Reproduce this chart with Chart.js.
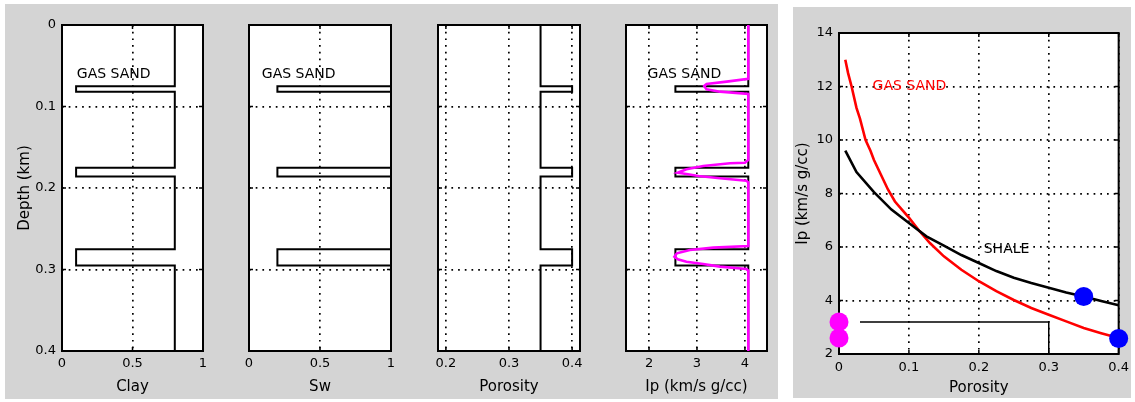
<!DOCTYPE html>
<html>
<head>
<meta charset="utf-8">
<script src="https://cdn.jsdelivr.net/npm/chart.js@4.4.1/dist/chart.umd.min.js"></script>
<style>
  html, body { margin: 0; padding: 0; background: #fff; }
  body { width: 1135px; height: 402px; position: relative; overflow: hidden; }
  .bg { position: absolute; background: #d4d4d4; }
  canvas { position: absolute; top: 0; }
</style>
</head>
<body>
<div class="bg" style="left:5px;top:4px;width:773px;height:395px"></div>
<div class="bg" style="left:793px;top:7px;width:338px;height:391px"></div>
<canvas id="clay" width="225" height="402" style="left:0px"></canvas>
<canvas id="sw" width="200" height="402" style="left:215px"></canvas>
<canvas id="por" width="200" height="402" style="left:405px"></canvas>
<canvas id="ip" width="190" height="402" style="left:595px"></canvas>
<canvas id="xplot" width="342" height="402" style="left:793px"></canvas>
<script>
// ---- Earth model: three gas-sand beds embedded in shale (depth in km) ----
const bedTop  = [0.075, 0.175, 0.275];
const bedBase = [0.082, 0.186, 0.295];

// Log values per lithology: [shale, gas sand]
const clayLog = [0.8, 0.1];
const swLog   = [1.0, 0.2];
const porLog  = [0.35, 0.40];
const ipLog   = [4.07, 2.55];

// Band-limited impedance trace (depth km, Ip)
const ipSynDepth = [0, 0.066, 0.0695, 0.0724, 0.0748, 0.0789, 0.0818, 0.0847,
  0.1656, 0.169, 0.1697, 0.173, 0.1771, 0.18, 0.1812, 0.1828, 0.1853, 0.1881, 0.191, 0.193,
  0.2712, 0.2732, 0.276, 0.2802, 0.2843, 0.2875, 0.2904, 0.2933, 0.2965, 0.2994, 0.3014, 0.4];
const ipSynValue = [4.07, 4.07, 3.62, 3.2, 3.15, 3.2, 3.48, 4.07,
  4.07, 4.0, 3.69, 3.13, 2.78, 2.65, 2.6, 2.78, 3.03, 3.48, 4.03, 4.07,
  4.07, 3.34, 2.85, 2.58, 2.53, 2.6, 2.78, 3.13, 3.48, 4.03, 4.07, 4.07];

// Rock-physics trends: impedance vs porosity
const sandPhi = [0.009, 0.013, 0.018, 0.025, 0.03, 0.038, 0.045, 0.05, 0.06, 0.07, 0.08, 0.09, 0.1,
  0.115, 0.13, 0.15, 0.175, 0.2, 0.225, 0.25, 0.275, 0.3, 0.325, 0.35, 0.375, 0.4];
const sandIp  = [13.0, 12.5, 12.0, 11.2, 10.8, 10.0, 9.6, 9.25, 8.7, 8.15, 7.7, 7.4, 7.1,
  6.6, 6.15, 5.65, 5.15, 4.72, 4.35, 4.02, 3.72, 3.47, 3.22, 2.97, 2.78, 2.6];
const shalePhi = [0.009, 0.025, 0.05, 0.075, 0.1, 0.125, 0.15, 0.175, 0.2, 0.225, 0.25,
  0.275, 0.3, 0.325, 0.35, 0.375, 0.4];
const shaleIp  = [9.6, 8.8, 8.05, 7.4, 6.9, 6.4, 6.05, 5.7, 5.4, 5.1, 4.85,
  4.65, 4.48, 4.3, 4.15, 3.98, 3.82];
const pathPhi = [0.03, 0.3, 0.3];
const pathIp  = [3.2, 3.2, 2.0];
const endPhi = [0.35, 0.4];
const endIp  = [4.15, 2.58];
const zeroPhi = [0, 0];
const zeroIp  = [3.2, 2.6];

// Tick values
const depthTicks = [0, 0.1, 0.2, 0.3, 0.4];
const fracTicks  = [0, 0.5, 1];
const porTicks   = [0.2, 0.3, 0.4];
const ipTicks    = [2, 3, 4];
const xpPhiTicks = [0, 0.1, 0.2, 0.3, 0.4];
const xpIpTicks  = [2, 4, 6, 8, 10, 12, 14];

Chart.defaults.font.family = "'DejaVu Sans', sans-serif";
Chart.defaults.color = '#000';

const CANVAS_H = 402;
const FONT_TICK = 13, FONT_TITLE = 15, FONT_NOTE = 14;

// blocky log from the bed model
function blockLog(vals) {
  const [shale, sand] = vals;
  const pts = [{ x: shale, y: depthTicks[0] }];
  bedTop.forEach((t, i) => {
    pts.push({ x: shale, y: t }, { x: sand, y: t }, { x: sand, y: bedBase[i] }, { x: shale, y: bedBase[i] });
  });
  pts.push({ x: shale, y: depthTicks[depthTicks.length - 1] });
  return pts;
}
const zipXY = (xs, ys) => xs.map((v, i) => ({ x: v, y: ys[i] }));
const fmt = v => String(Math.round(v * 1000) / 1000);

// white plot box, frame and inward tick marks
const framePlugin = {
  id: 'frame',
  beforeDraw(chart) {
    const { ctx, chartArea: a } = chart;
    ctx.save();
    ctx.fillStyle = '#fff';
    ctx.fillRect(a.left, a.top, a.width, a.height);
    ctx.restore();
  },
  beforeDatasetsDraw(chart) {
    const { ctx, chartArea: a, scales } = chart;
    ctx.save();
    ctx.strokeStyle = '#000';
    ctx.lineWidth = 1.5;
    ctx.beginPath();
    scales.x.ticks.forEach(t => {
      const p = scales.x.getPixelForValue(t.value);
      ctx.moveTo(p, a.top); ctx.lineTo(p, a.top + 4);
      ctx.moveTo(p, a.bottom); ctx.lineTo(p, a.bottom - 4);
    });
    scales.y.ticks.forEach(t => {
      const p = scales.y.getPixelForValue(t.value);
      ctx.moveTo(a.left, p); ctx.lineTo(a.left + 4, p);
      ctx.moveTo(a.right, p); ctx.lineTo(a.right - 4, p);
    });
    ctx.stroke();
    ctx.lineWidth = 2;
    ctx.strokeRect(a.left, a.top, a.width, a.height);
    ctx.restore();
  },
  afterDatasetsDraw(chart) {
    const notes = chart.options.plugins.notes || [];
    const { ctx, scales } = chart;
    ctx.save();
    ctx.font = FONT_NOTE + "px 'DejaVu Sans', sans-serif";
    ctx.textAlign = 'left';
    ctx.textBaseline = 'middle';
    notes.forEach(n => {
      ctx.fillStyle = n.color;
      ctx.fillText(n.text, scales.x.getPixelForValue(n.x), scales.y.getPixelForValue(n.y));
    });
    ctx.restore();
  }
};

function axis(opts) {
  const cfg = {
    type: 'linear',
    min: opts.min, max: opts.max, reverse: !!opts.reverse,
    afterBuildTicks: s => { s.ticks = opts.ticks.map(v => ({ value: v })); },
    afterFit: s => { if (opts.width != null) s.width = opts.width; if (opts.height != null) s.height = opts.height; },
    grid: { color: '#000', lineWidth: 1.7, drawTicks: false },
    border: { display: false, dash: [1.7, 5] },
    ticks: {
      display: opts.showLabels !== false,
      padding: opts.tickPad || 6,
      autoSkip: false, maxRotation: 0,
      color: '#000',
      font: { size: FONT_TICK },
      callback: v => fmt(v)
    },
    title: {
      display: !!opts.title,
      text: opts.title || '',
      color: '#000',
      font: { size: FONT_TITLE },
      padding: opts.titlePad || { top: 0, bottom: 0 }
    }
  };
  return cfg;
}

function makeChart(id, g, xAxis, yAxis, datasets, notes) {
  const canvasLeft = g.canvasLeft, canvasW = g.canvasW;
  new Chart(document.getElementById(id), {
    type: 'scatter',
    data: { datasets },
    options: {
      responsive: false,
      animation: false,
      devicePixelRatio: 1,
      layout: { padding: { left: 0, top: g.top, right: canvasLeft + canvasW - g.right, bottom: 0 } },
      plugins: { legend: { display: false }, tooltip: { enabled: false }, notes },
      scales: {
        x: axis(Object.assign({ height: CANVAS_H - g.bottom }, xAxis)),
        y: axis(Object.assign({ width: g.left - canvasLeft }, yAxis))
      }
    },
    plugins: [framePlugin]
  });
}

const logLine = (data, color, width) => ({
  data, showLine: true, borderColor: color, borderWidth: width,
  pointRadius: 0, pointHoverRadius: 0, fill: false, tension: 0
});

const depthAxisHidden = { min: 0, max: 0.4, reverse: true, ticks: depthTicks, showLabels: false };

// Clay
makeChart('clay', { canvasLeft: 0, canvasW: 225, left: 62, right: 203, top: 25, bottom: 351 },
  { min: 0, max: 1, ticks: fracTicks, tickPad: 5, title: 'Clay', titlePad: { top: 0, bottom: 6 } },
  { min: 0, max: 0.4, reverse: true, ticks: depthTicks, tickPad: 6, title: 'Depth (km)', titlePad: { top: 16, bottom: 0 } },
  [logLine(blockLog(clayLog), '#000', 2)],
  [{ text: 'GAS SAND', x: 0.105, y: 0.061, color: '#000' }]);

// Water saturation
makeChart('sw', { canvasLeft: 215, canvasW: 200, left: 249, right: 391, top: 25, bottom: 351 },
  { min: 0, max: 1, ticks: fracTicks, tickPad: 5, title: 'Sw', titlePad: { top: 0, bottom: 6 } },
  depthAxisHidden,
  [logLine(blockLog(swLog), '#000', 2)],
  [{ text: 'GAS SAND', x: 0.09, y: 0.061, color: '#000' }]);

// Porosity
makeChart('por', { canvasLeft: 405, canvasW: 200, left: 438, right: 580, top: 25, bottom: 351 },
  { min: 0.1875, max: 0.4125, ticks: porTicks, tickPad: 5, title: 'Porosity', titlePad: { top: 0, bottom: 6 } },
  depthAxisHidden,
  [logLine(blockLog(porLog), '#000', 2)],
  []);

// Impedance: blocky model and band-limited trace
makeChart('ip', { canvasLeft: 595, canvasW: 190, left: 626, right: 767, top: 25, bottom: 351 },
  { min: 1.52, max: 4.46, ticks: ipTicks, tickPad: 5, title: 'Ip (km/s g/cc)', titlePad: { top: 0, bottom: 6 } },
  depthAxisHidden,
  [logLine(zipXY(ipSynValue, ipSynDepth), '#ff00ff', 2.6),
   logLine(blockLog(ipLog), '#000', 2)],
  [{ text: 'GAS SAND', x: 1.97, y: 0.061, color: '#000' }]);

// Impedance vs porosity crossplot
const dot = (data, color) => ({
  data, showLine: false, pointRadius: 9.5, pointHoverRadius: 9.5,
  backgroundColor: color, borderColor: color, borderWidth: 0, clip: false
});
makeChart('xplot', { canvasLeft: 793, canvasW: 342, left: 839, right: 1120, top: 33, bottom: 354 },
  { min: 0, max: 0.4, ticks: xpPhiTicks, tickPad: 6, title: 'Porosity', titlePad: { top: 0, bottom: 5 } },
  { min: 2, max: 14, ticks: xpIpTicks, tickPad: 6, title: 'Ip (km/s g/cc)', titlePad: { top: 1, bottom: 0 } },
  [dot(zipXY(endPhi, endIp), '#0000ff'),
   dot(zipXY(zeroPhi, zeroIp), '#ff00ff'),
   logLine(zipXY(pathPhi, pathIp), '#000', 1.5),
   logLine(zipXY(shalePhi, shaleIp), '#000', 2.6),
   logLine(zipXY(sandPhi, sandIp), '#ff0000', 2.6)],
  [{ text: 'GAS SAND', x: 0.048, y: 12.0, color: '#ff0000' },
   { text: 'SHALE', x: 0.207, y: 5.9, color: '#000' }]);
</script>
</body>
</html>
